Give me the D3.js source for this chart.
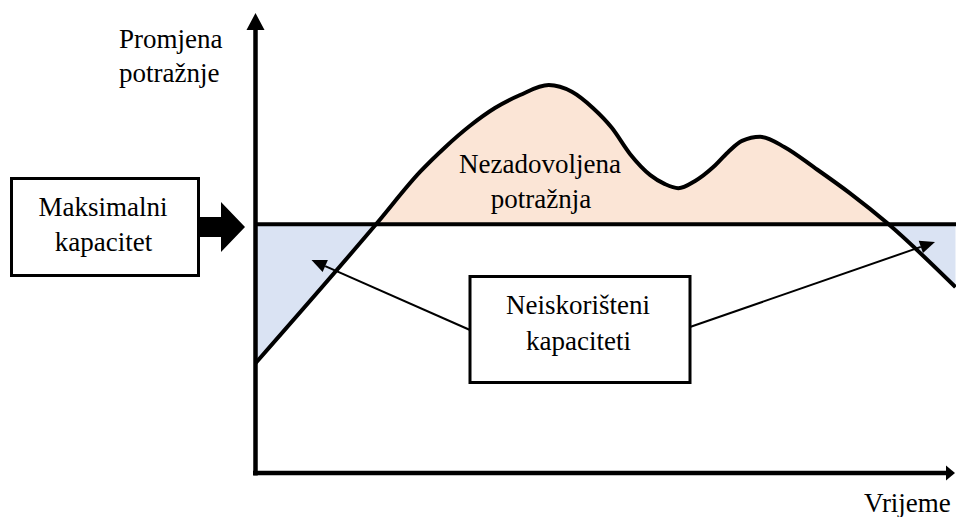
<!DOCTYPE html>
<html>
<head>
<meta charset="utf-8">
<script src="https://cdn.jsdelivr.net/npm/d3@7"></script>
</head>
<body style="margin:0">
<svg id="chart" width="956" height="517"></svg>
<script>
// demand over time (time 0..100, demand 0..100)
const time   = [0, 17.4, 23.5, 27.1, 30.6, 34.2, 37.8, 41.9, 45.2, 48.2, 50.9, 53.5, 56.4, 58.5, 60.4,
                62.8, 65.4, 67.5, 69.5, 72.1, 75.6, 79.9, 84.9, 90.2, 100]
const demand = [24.4, 55.6, 66.9, 72.4, 77.1, 81.1, 84.0, 86.2, 84.7, 81.1, 76.7, 70.9, 66.2, 64.2, 63.3,
                64.9, 68.0, 71.3, 73.8, 74.7, 72.4, 67.8, 62.2, 55.6, 41.3]
const capacity = 55.3

const yLabel = ["Promjena", "potražnje"]
const xLabel = "Vrijeme"
const capLabel = ["Maksimalni", "kapacitet"]
const overLabel = ["Nezadovoljena", "potražnja"]
const unusedLabel = ["Neiskorišteni", "kapaciteti"]

const W = 956, H = 517

const svg = d3.select("#chart")

// plot area: y axis at x=255.5, x axis at y=473
const x = d3.scaleLinear().domain([0, 100]).range([255.5, 955.5])
const y = d3.scaleLinear().domain([0, 100]).range([473, 23])

const pts = time.map((t, i) => ({t, d: demand[i]}))

// clip regions above / below the capacity line
const defs = svg.append("defs")
defs.append("clipPath").attr("id", "above")
    .append("rect")
    .attr("x", x(0)).attr("y", 0)
    .attr("width", W).attr("height", y(capacity))
defs.append("clipPath").attr("id", "below")
    .append("rect")
    .attr("x", x(0)).attr("y", y(capacity))
    .attr("width", W).attr("height", H)

const curve = d3.curveMonotoneX

const area = d3.area()
    .x(d => x(d.t))
    .y0(y(capacity))
    .y1(d => y(d.d))
    .curve(curve)

// unmet demand (peach) and unused capacity (blue)
svg.append("path").datum(pts)
    .attr("d", area)
    .attr("fill", "#fbe5d6")
    .attr("clip-path", "url(#above)")
svg.append("path").datum(pts)
    .attr("d", area)
    .attr("fill", "#dae3f3")
    .attr("clip-path", "url(#below)")

// capacity line
svg.append("line")
    .attr("x1", x(0)).attr("x2", W)
    .attr("y1", y(capacity)).attr("y2", y(capacity))
    .attr("stroke", "#000").attr("stroke-width", 4)

// demand curve
svg.append("path").datum(pts)
    .attr("d", d3.line().x(d => x(d.t)).y(d => y(d.d)).curve(curve))
    .attr("fill", "none")
    .attr("stroke", "#000")
    .attr("stroke-width", 4)

// axes with arrow heads
const axisTop = 13, axisRight = 955
svg.append("line")
    .attr("x1", x(0)).attr("x2", x(0))
    .attr("y1", y(0) + 2.5).attr("y2", axisTop + 14)
    .attr("stroke", "#000").attr("stroke-width", 4.5)
svg.append("path")
    .attr("d", `M${x(0)},${axisTop} L${x(0) + 9},${axisTop + 17} L${x(0) - 9},${axisTop + 17} Z`)
    .attr("fill", "#000")
svg.append("line")
    .attr("x1", x(0) - 2.5).attr("x2", axisRight - 6)
    .attr("y1", y(0)).attr("y2", y(0))
    .attr("stroke", "#000").attr("stroke-width", 4.5)
svg.append("path")
    .attr("d", `M${axisRight},${y(0)} L${axisRight - 9},${y(0) - 7.5} L${axisRight - 9},${y(0) + 7.5} Z`)
    .attr("fill", "#000")

// "Maksimalni kapacitet" box and block arrow
svg.append("rect")
    .attr("x", 11.5).attr("y", 178.5).attr("width", 187).attr("height", 97)
    .attr("fill", "#fff").attr("stroke", "#000").attr("stroke-width", 3)
svg.append("path")
    .attr("d", "M200,217 L221,217 L221,202 L245,227 L221,252 L221,237 L200,237 Z")
    .attr("fill", "#000")

// pointer lines to the unused-capacity areas
const pointers = [
    {from: [470, 330], to: [311.5, 260]},
    {from: [690, 327], to: [935, 242]}
]
pointers.forEach(p => {
    const [x1, y1] = p.from, [x2, y2] = p.to
    const a = Math.atan2(y2 - y1, x2 - x1)
    const len = 15, half = 6.5
    const bx = x2 - len * Math.cos(a), by = y2 - len * Math.sin(a)
    svg.append("line")
        .attr("x1", x1).attr("y1", y1).attr("x2", bx).attr("y2", by)
        .attr("stroke", "#000").attr("stroke-width", 2)
    svg.append("path")
        .attr("d", `M${x2},${y2} L${bx + half * Math.sin(a)},${by - half * Math.cos(a)} L${bx - half * Math.sin(a)},${by + half * Math.cos(a)} Z`)
        .attr("fill", "#000")
})

svg.append("rect")
    .attr("x", 470).attr("y", 276.5).attr("width", 220).attr("height", 106)
    .attr("fill", "#fff").attr("stroke", "#000").attr("stroke-width", 3)

// labels, drawn last; centred lines are placed from their measured width
function label(lines, cx, baselines, anchor) {
    lines.forEach((s, i) => {
        const t = svg.append("text")
            .attr("x", cx[i]).attr("y", baselines[i])
            .style("font-family", '"Liberation Serif"')
            .style("font-size", "27px")
            .text(s)
        if (anchor !== "start") {
            const len = t.node().getComputedTextLength()
            t.attr("x", cx[i] - len / 2)
        }
    })
}

label(yLabel, [119, 119], [48, 82], "start")
label([xLabel], [864], [512], "start")
label(capLabel, [103, 103.5], [216, 251])
label(overLabel, [540, 541], [173, 208])
label(unusedLabel, [578, 578.5], [314, 350])
</script>
</body>
</html>
